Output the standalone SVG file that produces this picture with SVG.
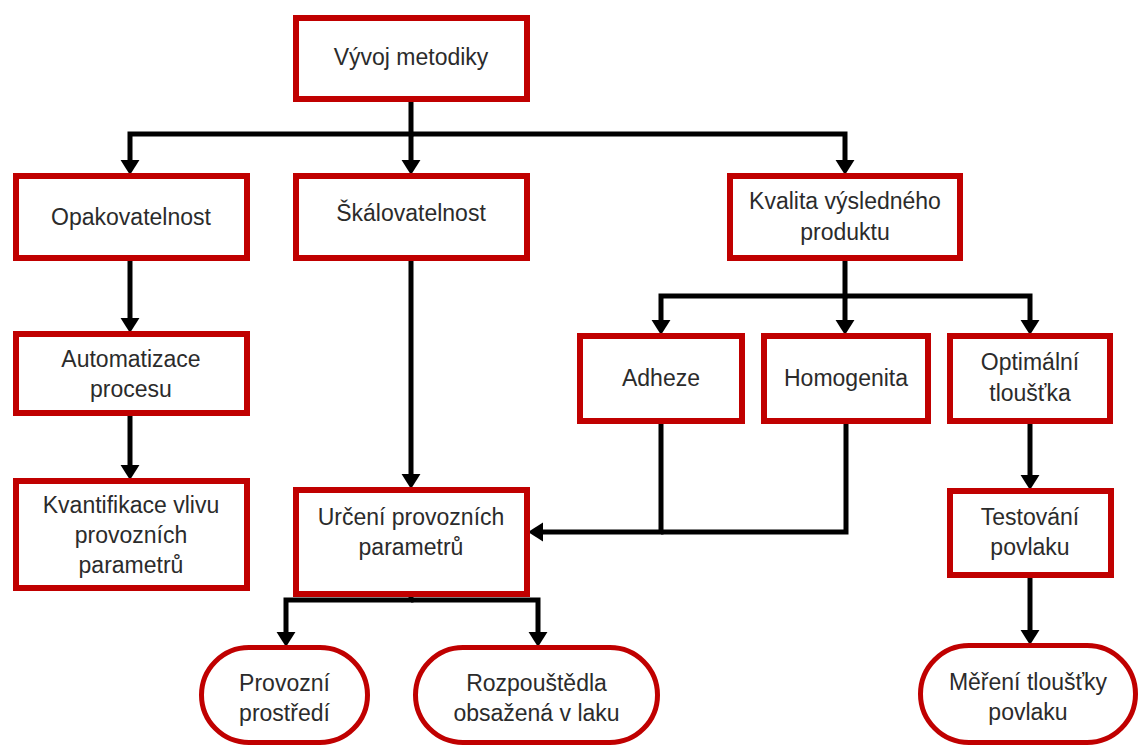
<svg xmlns="http://www.w3.org/2000/svg" width="1140" height="749" viewBox="0 0 1140 749">
  <style>
    .box { fill: #ffffff; stroke: #c00000; stroke-width: 6; }
    .oval { fill: #ffffff; stroke: #c00000; stroke-width: 5; }
    .lbl { font-family: "Liberation Sans", Arial, sans-serif; font-size: 23px; fill: #2b2b2b; text-anchor: middle; }
    .conn { fill: none; stroke: #000000; stroke-width: 5; stroke-linejoin: miter; }
  </style>
  <defs>
    <marker id="arrow" markerUnits="userSpaceOnUse" markerWidth="16" markerHeight="20" viewBox="0 -9 14 18" refX="0" refY="0" orient="auto">
      <path d="M0,-8.5 L13.5,0 L0,8.5 z" fill="#000000"/>
    </marker>
  </defs>
  <rect width="1140" height="749" fill="#ffffff"/>

  <!-- connectors: each path stops at the arrow base, the marker draws the head -->
  <g id="connectors" class="conn" marker-end="url(#arrow)">
    <path d="M411,102 V134 H130 V160"/>
    <path d="M411,134 V160"/>
    <path d="M411,134 H845 V160"/>
    <path d="M130,261 V318"/>
    <path d="M130,416 V465"/>
    <path d="M411,261 V474"/>
    <path d="M845,261 V296 H661 V320"/>
    <path d="M845,296 V320"/>
    <path d="M845,296 H1030 V320"/>
    <path d="M661,424 V532 H543"/>
    <path d="M846,424 V532 H661" marker-end="none"/>
    <path d="M1030,424 V475"/>
    <path d="M1030,578 V630"/>
    <path d="M411,597 V600 H286 V632"/>
    <path d="M411,600 H538 V632"/>
  </g>

  <g id="vyvoj">
    <rect class="box" x="296" y="18" width="231" height="81"/>
    <text class="lbl" x="411" y="65">Vývoj metodiky</text>
  </g>
  <g id="opakovatelnost">
    <rect class="box" x="16" y="176" width="231" height="82"/>
    <text class="lbl" x="131" y="225">Opakovatelnost</text>
  </g>
  <g id="skalovatelnost">
    <rect class="box" x="296" y="176" width="231" height="82"/>
    <text class="lbl" x="411" y="221">Škálovatelnost</text>
  </g>
  <g id="kvalita">
    <rect class="box" x="730" y="176" width="230" height="82"/>
    <text class="lbl" x="845" y="209">Kvalita výsledného</text>
    <text class="lbl" x="845" y="240">produktu</text>
  </g>
  <g id="automatizace">
    <rect class="box" x="16" y="334" width="231" height="79"/>
    <text class="lbl" x="131" y="367">Automatizace</text>
    <text class="lbl" x="131" y="397">procesu</text>
  </g>
  <g id="kvantifikace">
    <rect class="box" x="16" y="481" width="231" height="107"/>
    <text class="lbl" x="131" y="513">Kvantifikace vlivu</text>
    <text class="lbl" x="131" y="543">provozních</text>
    <text class="lbl" x="131" y="573">parametrů</text>
  </g>
  <g id="adheze">
    <rect class="box" x="580" y="336" width="162" height="85"/>
    <text class="lbl" x="661" y="386">Adheze</text>
  </g>
  <g id="homogenita">
    <rect class="box" x="764" y="336" width="164" height="85"/>
    <text class="lbl" x="846" y="386">Homogenita</text>
  </g>
  <g id="optimalni">
    <rect class="box" x="950" y="336" width="160" height="85"/>
    <text class="lbl" x="1030" y="370">Optimální</text>
    <text class="lbl" x="1030" y="401">tloušťka</text>
  </g>
  <g id="urceni">
    <rect class="box" x="296" y="490" width="231" height="104"/>
    <text class="lbl" x="411" y="525">Určení provozních</text>
    <text class="lbl" x="411" y="555">parametrů</text>
  </g>
  <g id="testovani">
    <rect class="box" x="950" y="491" width="161" height="84"/>
    <text class="lbl" x="1030" y="525">Testování</text>
    <text class="lbl" x="1030" y="555">povlaku</text>
  </g>
  <g id="provozni">
    <rect class="oval" x="201.5" y="647.5" width="166" height="95" rx="47.5"/>
    <text class="lbl" x="284.5" y="691">Provozní</text>
    <text class="lbl" x="284.5" y="721">prostředí</text>
  </g>
  <g id="rozpoustedla">
    <rect class="oval" x="415.5" y="647.5" width="242" height="95" rx="47.5"/>
    <text class="lbl" x="536.5" y="691">Rozpouštědla</text>
    <text class="lbl" x="536.5" y="721">obsažená v laku</text>
  </g>
  <g id="mereni">
    <rect class="oval" x="920.5" y="645.5" width="215" height="97" rx="48.5"/>
    <text class="lbl" x="1028" y="690">Měření tloušťky</text>
    <text class="lbl" x="1028" y="720">povlaku</text>
  </g>
</svg>
